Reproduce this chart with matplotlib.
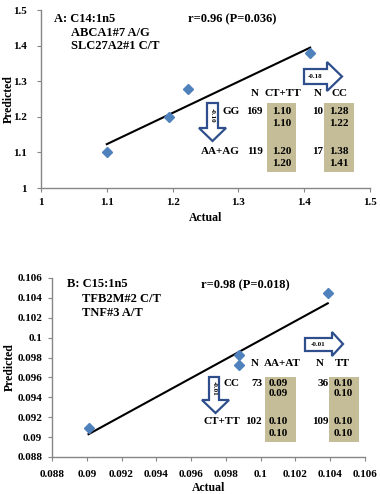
import numpy as np
import matplotlib.pyplot as plt
from matplotlib.patches import Polygon, Rectangle
from matplotlib.ticker import FuncFormatter

W, H = 380, 494

# panel A: C14:1n5
actual_a = [1.10, 1.195, 1.223, 1.409]
pred_a = [1.10, 1.20, 1.277, 1.378]
a_rows = ['GG', 'AA+AG']
a_cols = ['CT+TT', 'CC']
a_n = [[169, 10], [119, 17]]
a_vals = [[[1.10, 1.10], [1.28, 1.22]],
          [[1.20, 1.20], [1.38, 1.41]]]
a_arrows = ['-0.10', '-0.18']

# panel B: C15:1n5
actual_b = [0.0901, 0.09875, 0.09875, 0.10386]
pred_b = [0.0909, 0.09825, 0.09725, 0.10448]
b_rows = ['CC', 'CT+TT']
b_cols = ['AA+AT', 'TT']
b_n = [[73, 36], [102, 109]]
b_vals = [[[0.09, 0.09], [0.10, 0.10]],
          [[0.10, 0.10], [0.10, 0.10]]]
b_arrows = ['-0.01', '-0.01']

plt.rcParams['font.family'] = ['Liberation Serif', 'DejaVu Serif']
plt.rcParams['font.weight'] = 'bold'

BLUE = '#4F81BD'
ARROW = '#2E4F8C'
TAN = '#C4BD97'
AXC = '#868686'


def P(x, y):
	# pixel position (from top-left) -> figure fraction
	return (x / W, 1 - y / H)


def ftext(fig, x, y, s, **kw):
	kw.setdefault('va', 'center')
	kw.setdefault('fontsize', 8)
	fig.text(*P(x, y), s, fontweight='bold', **kw)


def block_arrow(fig, pts, label, cx, cy, rot=0):
	fig.add_artist(Polygon([P(x, y) for x, y in pts], closed=True, facecolor='white',
	                       edgecolor=ARROW, lw=1.6, transform=fig.transFigure, zorder=3))
	fig.text(*P(cx, cy), label, fontsize=5, fontweight='bold', ha='center', va='center',
	         rotation=rot, zorder=4)


def style_axes(ax, xlim, ylim, ticks_x, ticks_y, ypad, xpad):
	ax.set_xlim(*xlim)
	ax.set_ylim(*ylim)
	ax.set_xticks(ticks_x)
	ax.set_yticks(ticks_y)
	fmt = FuncFormatter(lambda v, p: '%g' % round(v, 4))
	ax.xaxis.set_major_formatter(fmt)
	ax.yaxis.set_major_formatter(fmt)
	for s in ['top', 'right']:
		ax.spines[s].set_visible(False)
	for s in ['left', 'bottom']:
		ax.spines[s].set_color(AXC)
		ax.spines[s].set_linewidth(1.0)
	ax.tick_params(axis='both', direction='out', length=3, color=AXC, labelsize=8)
	ax.tick_params(axis='y', pad=ypad)
	ax.tick_params(axis='x', pad=xpad)
	for lab in ax.get_xticklabels() + ax.get_yticklabels():
		lab.set_fontweight('bold')


def scatter_fit(ax, x, y):
	x = np.array(x)
	y = np.array(y)
	k, b = np.polyfit(x, y, 1)
	xs = np.array([x.min(), x.max()])
	ax.plot(xs, k * xs + b, color='black', lw=1.5, zorder=2)
	ax.plot(x, y, 'D', color=BLUE, markersize=5, zorder=3, clip_on=False)


def draw_table(fig, rows, cols, n, vals, lay):
	for bx0, bx1 in lay['boxes']:
		fig.add_artist(Rectangle(P(bx0, lay['box_y'][1]), (bx1 - bx0) / W,
		                         (lay['box_y'][1] - lay['box_y'][0]) / H,
		                         facecolor=TAN, edgecolor='none', transform=fig.transFigure, zorder=1))
	hy = lay['head_y']
	for j in range(2):
		ftext(fig, lay['n_head'][j], hy, 'N', ha='center')
		ftext(fig, lay['col_x'][j], hy, cols[j], ha='center')
	for i in range(2):
		y0 = lay['row_y'][i]
		ftext(fig, lay['row_x'], y0, rows[i], ha='right')
		for j in range(2):
			ftext(fig, lay['n_x'][j], y0, str(n[i][j]), ha='right')
			ftext(fig, lay['val_x'][j], y0, '%.2f' % vals[i][j][0], ha='center')
			ftext(fig, lay['val_x'][j], y0 + lay['dy'], '%.2f' % vals[i][j][1], ha='center')


fig = plt.figure(figsize=(W / 100, H / 100), dpi=100)

# ---------------- panel A ----------------
ax_a = fig.add_axes([41 / W, 1 - 188 / H, 329 / W, 178 / H])
scatter_fit(ax_a, actual_a, pred_a)
style_axes(ax_a, (1, 1.5), (1, 1.5), np.arange(1, 1.51, 0.1), np.arange(1, 1.51, 0.1), 7, 4)
ax_a.set_xlabel('Actual', fontsize=8.5, fontweight='bold')
ax_a.set_ylabel('Predicted', fontsize=8.5, fontweight='bold')
ax_a.xaxis.set_label_coords(0.5, -0.135)
ax_a.yaxis.set_label_coords(-0.08, 0.5)

ftext(fig, 54, 19, 'A: C14:1n5', fontsize=9)
ftext(fig, 71, 33, 'ABCA1#7 A/G', fontsize=9)
ftext(fig, 71, 46, 'SLC27A2#1 C/T', fontsize=9)
ftext(fig, 188, 19, 'r=0.96 (P=0.036)', fontsize=9)

draw_table(fig, a_rows, a_cols, a_n, a_vals, {
	'boxes': [(267, 296), (324, 354)], 'box_y': (103, 172),
	'head_y': 93, 'n_head': [255, 318], 'col_x': [283, 339], 'val_x': [282, 339],
	'row_y': [112, 151], 'dy': 12, 'row_x': 240, 'n_x': [263, 323]})

block_arrow(fig, [(207, 103), (218, 103), (218, 128), (226, 128), (212.5, 141), (199, 128), (207, 128)],
            a_arrows[0], 212.5, 115, rot=270)
block_arrow(fig, [(304, 69), (327, 69), (327, 62), (342, 76.5), (327, 91), (327, 84), (304, 84)],
            a_arrows[1], 315, 76.5)

# ---------------- panel B ----------------
ax_b = fig.add_axes([52 / W, 1 - 457 / H, 313 / W, 179 / H])
scatter_fit(ax_b, actual_b, pred_b)
style_axes(ax_b, (0.088, 0.106), (0.088, 0.106), np.arange(0.088, 0.1061, 0.002),
           np.arange(0.088, 0.1061, 0.002), 4, 6)
ax_b.set_xlabel('Actual', fontsize=8.5, fontweight='bold')
ax_b.set_ylabel('Predicted', fontsize=8.5, fontweight='bold')
ax_b.xaxis.set_label_coords(0.5, -0.14)
ax_b.yaxis.set_label_coords(-0.115, 0.5)

ftext(fig, 67, 284, 'B: C15:1n5', fontsize=9)
ftext(fig, 82, 299, 'TFB2M#2 C/T', fontsize=9)
ftext(fig, 82, 313, 'TNF#3 A/T', fontsize=9)
ftext(fig, 201, 285, 'r=0.98 (P=0.018)', fontsize=9)

draw_table(fig, b_rows, b_cols, b_n, b_vals, {
	'boxes': [(265, 296), (329, 359)], 'box_y': (377, 442),
	'head_y': 363, 'n_head': [255, 320], 'col_x': [282, 342], 'val_x': [278, 343],
	'row_y': [383, 422], 'dy': 11, 'row_x': 240, 'n_x': [262, 329]})

block_arrow(fig, [(209, 377), (219, 377), (219, 400), (229, 400), (215.5, 413), (202, 400), (209, 400)],
            b_arrows[0], 214, 388, rot=270)
block_arrow(fig, [(305, 338), (332, 338), (332, 332), (343, 344), (332, 356), (332, 351), (305, 351)],
            b_arrows[1], 318, 344.5)

fig.savefig('out.png', dpi=100)
